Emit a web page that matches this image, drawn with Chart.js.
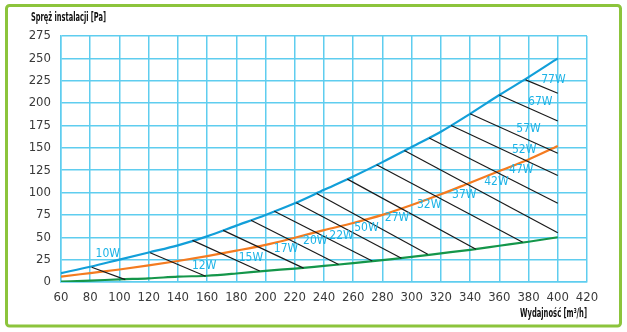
<!DOCTYPE html>
<html>
<head>
<meta charset="utf-8">
<script src="https://cdn.jsdelivr.net/npm/chart.js@4.4.1/dist/chart.umd.min.js"></script>
<style>
  html, body { margin: 0; padding: 0; background: #fff; }
  canvas { display: block; }
</style>
</head>
<body>
<canvas id="fanChart" width="627" height="332"></canvas>
<script>
// air flow [m3/h] for the three system curves
const flow = [60, 80, 100, 120, 140, 160, 180, 200, 220, 240, 260, 280, 300, 320, 340, 360, 380, 400];
const pressureMax = [10, 17, 25, 33, 41, 51, 63, 75, 88, 103, 118, 134, 151, 168, 188, 209, 229, 250];
const pressureMid = [6, 10, 14, 18.5, 23.5, 29, 35, 41.5, 49.5, 58, 66, 75, 86, 98, 111, 124, 137, 152];
const pressureMin = [0.5, 1.5, 3, 4, 6, 7, 9.5, 12.5, 15, 18, 21, 24.5, 28, 32, 36, 40.5, 45, 50];

// power iso-lines: start on top curve, end on bottom curve or at 400
const powerLabels = ['10W', '12W', '15W', '17W', '20W', '22W', '50W', '27W', '32W', '37W', '42W', '47W', '52W', '57W', '67W', '77W'];
const powerStartX = [81, 121, 150, 171, 190, 206, 221, 235, 256, 276, 295, 312, 327, 340, 360, 378];
const powerStartY = [16.5, 32.7, 46.5, 57.7, 69, 79, 88.6, 99, 115, 131, 147, 161, 175, 188, 209, 226];
const powerEndX = [104, 159, 196, 226, 250, 273, 293, 311, 344, 376, 400, 400, 400, 400, 400, 400];
const powerEndY = [2.6, 6.4, 12.3, 15.5, 19.5, 23.4, 26.5, 31, 36.7, 44.5, 55, 88, 119, 144, 180, 211];
const powerLabelX = [92, 158, 190, 214, 234, 252, 269, 290, 312, 336, 358, 375, 377, 380, 388, 397];
const powerLabelY = [31, 18, 27.5, 37.5, 46, 51.5, 61, 72, 86, 97, 112, 125, 148, 171.5, 201, 226];

const FONT = '"Liberation Sans Narrow", "DejaVu Sans Condensed", "Liberation Sans", sans-serif';
const GRID = '#5fcdef';

function curve(values, color) {
    return {
        data: flow.map((x, i) => ({ x: x, y: values[i] })),
        borderColor: color,
        borderWidth: 2.2,
        pointRadius: 0,
        cubicInterpolationMode: 'monotone'
    };
}

const datasets = [];
powerLabels.forEach((lbl, i) => {
    datasets.push({
        data: [{ x: powerStartX[i], y: powerStartY[i] }, { x: powerEndX[i], y: powerEndY[i] }],
        borderColor: '#1a1a1a',
        borderWidth: 1.2,
        pointRadius: 0
    });
});
datasets.push(curve(pressureMin, '#14964a'));
datasets.push(curve(pressureMid, '#f47b20'));
datasets.push(curve(pressureMax, '#129fd9'));

const decorations = {
    id: 'decorations',
    beforeDraw(chart) {
        const c = chart.ctx;
        c.save();
        c.fillStyle = '#fff';
        c.fillRect(0, 0, chart.width, chart.height);
        c.strokeStyle = '#8cc43c';
        c.lineWidth = 3;
        c.beginPath();
        c.roundRect(6.5, 5.5, 614, 320.5, 3);
        c.stroke();
        c.restore();
    },
    afterDatasetsDraw(chart) {
        const c = chart.ctx;
        const xs = chart.scales.x, ys = chart.scales.y;
        c.save();
        c.fillStyle = '#1db3e6';
        c.font = '12px ' + FONT;
        c.textAlign = 'center';
        c.textBaseline = 'middle';
        powerLabels.forEach((lbl, i) => {
            c.fillText(lbl, xs.getPixelForValue(powerLabelX[i]), ys.getPixelForValue(powerLabelY[i]));
        });
        c.fillStyle = '#111';
        c.font = 'bold 12px ' + FONT;
        c.textAlign = 'left';
        c.textBaseline = 'alphabetic';
        c.fillText('Spręż instalacji [Pa]', 31, 21, 75);
        c.textAlign = 'right';
        c.fillText('Wydajność [m³/h]', 587, 317, 67);
        c.restore();
    }
};

new Chart(document.getElementById('fanChart'), {
    type: 'line',
    data: { datasets: datasets },
    options: {
        responsive: false,
        animation: false,
        layout: { padding: { left: 0, top: 36, right: 40, bottom: 0 } },
        plugins: { legend: { display: false }, tooltip: { enabled: false } },
        scales: {
            x: {
                type: 'linear',
                min: 60, max: 420,
                afterFit: s => { s.height = 50; },
                ticks: { stepSize: 20, color: '#3a3a3a', font: { family: FONT, size: 13 }, padding: 8, maxRotation: 0 },
                grid: { color: GRID, lineWidth: 1.5, drawTicks: false },
                border: { color: GRID, width: 1.5 }
            },
            y: {
                min: 0, max: 275,
                afterFit: s => { s.width = 61; },
                ticks: { stepSize: 25, color: '#3a3a3a', font: { family: FONT, size: 13 }, padding: 10 },
                grid: { color: GRID, lineWidth: 1.5, drawTicks: false },
                border: { color: GRID, width: 1.5 }
            }
        }
    },
    plugins: [decorations]
});
</script>
</body>
</html>
